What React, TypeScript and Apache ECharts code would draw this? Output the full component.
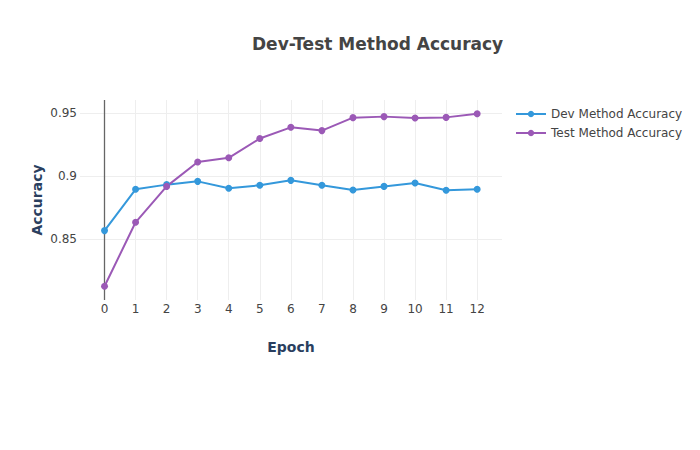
import React, { useEffect, useRef } from "react";
import * as echarts from "echarts";

const epochs = [0, 1, 2, 3, 4, 5, 6, 7, 8, 9, 10, 11, 12];
const devAccuracy = [0.8569, 0.8897, 0.8934, 0.896, 0.8905, 0.8929, 0.8968, 0.8929, 0.8891, 0.892, 0.8947, 0.8889, 0.8897];
const testAccuracy = [0.8127, 0.8635, 0.892, 0.9114, 0.9147, 0.930, 0.9389, 0.9363, 0.9466, 0.9474, 0.9463, 0.9468, 0.9497];
const yTicks = [0.85, 0.9, 0.95];
const xTicks = epochs;

export default function App() {
  const ref = useRef<HTMLDivElement>(null);
  useEffect(() => {
    if (!ref.current) return;
    const chart = echarts.init(ref.current, null, { renderer: "svg" });
    const font = "'DejaVu Sans', Verdana, sans-serif";
    chart.setOption({
      animation: false,
      backgroundColor: "#ffffff",
      title: {
        text: "Dev-Test Method Accuracy",
        left: 252,
        top: 35,
        padding: 0,
        textStyle: { fontFamily: font, fontSize: 17, fontWeight: "bold", color: "#444444" },
      },
      legend: {
        orient: "vertical",
        left: 515,
        top: 108,
        padding: 0,
        itemWidth: 30,
        itemHeight: 8,
        itemGap: 7,
        textStyle: { fontFamily: font, fontSize: 12, color: "#444444" },
        data: ["Dev Method Accuracy", "Test Method Accuracy"],
      },
      grid: { left: 80, right: 198, top: 100, bottom: 150, containLabel: false },
      xAxis: {
        type: "value",
        min: -0.79,
        max: 12.8,
        name: "Epoch",
        nameLocation: "middle",
        nameGap: 40,
        nameMoveOverlap: false,
        nameTextStyle: { fontFamily: font, fontSize: 14, fontWeight: "bold", color: "#2a3f5f" },
        axisLine: { show: false },
        axisTick: { show: false, customValues: xTicks },
        axisLabel: { customValues: xTicks, margin: 3, fontFamily: font, fontSize: 12, color: "#444444" },
        splitLine: { show: true, lineStyle: { color: "#eeeeee", width: 1 } },
      },
      yAxis: {
        type: "value",
        min: 0.8018,
        max: 0.9606,
        name: "Accuracy",
        nameLocation: "middle",
        nameGap: 36,
        nameMoveOverlap: false,
        nameTextStyle: { fontFamily: font, fontSize: 14, fontWeight: "bold", color: "#2a3f5f" },
        axisLine: { show: false },
        axisTick: { show: false, customValues: yTicks },
        axisLabel: {
          customValues: yTicks,
          margin: 3,
          fontFamily: font,
          fontSize: 12,
          color: "#444444",
          formatter: (v: number) => String(Math.round(v * 100) / 100),
        },
        splitLine: { show: true, lineStyle: { color: "#eeeeee", width: 1 } },
      },
      series: [
        {
          name: "zero",
          type: "line",
          data: [],
          silent: true,
          z: 1,
          markLine: {
            silent: true,
            z: 1,
            symbol: ["none", "none"],
            label: { show: false },
            lineStyle: { color: "#666666", width: 1.3, type: "solid" },
            data: [{ xAxis: 0 }],
          },
        },
        {
          name: "Dev Method Accuracy",
          type: "line",
          z: 3,
          data: epochs.map((e, i) => [e, devAccuracy[i]]),
          symbol: "circle",
          symbolSize: 7,
          lineStyle: { color: "#3498db", width: 2 },
          itemStyle: { color: "#3498db" },
        },
        {
          name: "Test Method Accuracy",
          type: "line",
          z: 3,
          data: epochs.map((e, i) => [e, testAccuracy[i]]),
          symbol: "circle",
          symbolSize: 7,
          lineStyle: { color: "#9b59b6", width: 2 },
          itemStyle: { color: "#9b59b6" },
        },
      ],
    });
    return () => chart.dispose();
  }, []);
  return <div ref={ref} style={{ width: 700, height: 450, position: "absolute", left: 0, top: 0 }} />;
}
